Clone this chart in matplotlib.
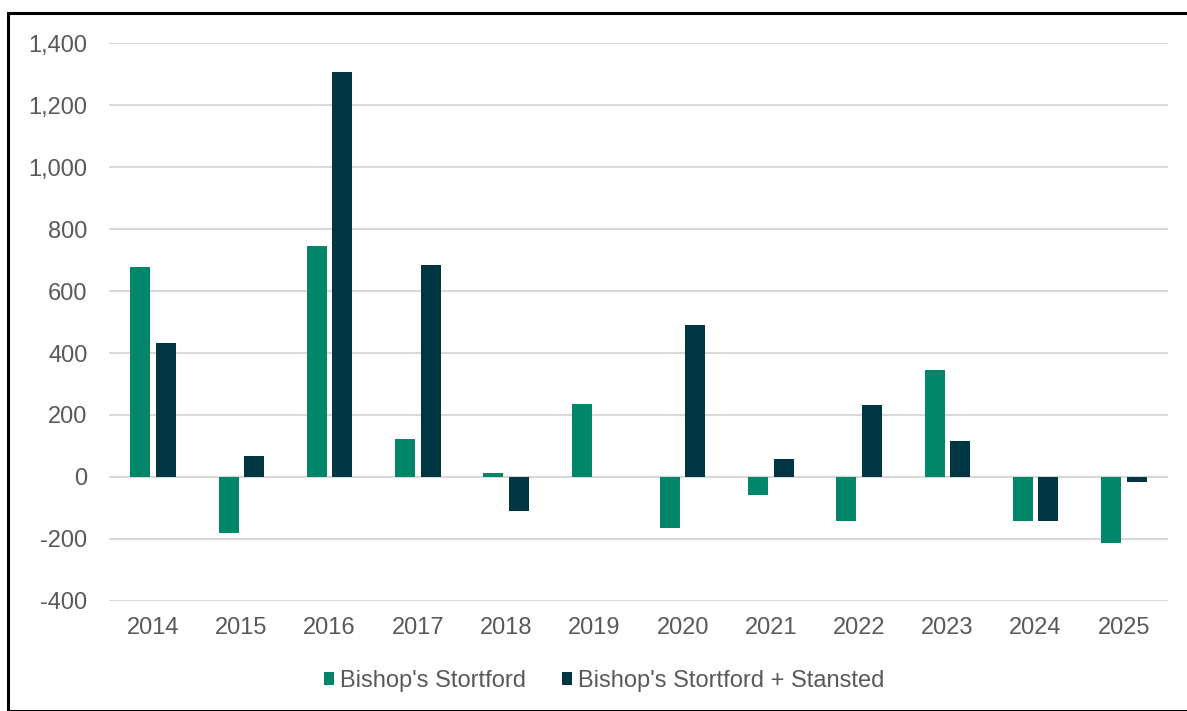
import matplotlib
matplotlib.use("Agg")
import matplotlib.pyplot as plt
import numpy as np
from matplotlib.patches import Rectangle
from matplotlib.ticker import FuncFormatter, MultipleLocator

years = ["2014", "2015", "2016", "2017", "2018", "2019", "2020", "2021", "2022", "2023", "2024", "2025"]
bishops = [678, -181, 746, 122, 14, 237, -164, -57, -141, 346, -141, -215]
bishops_stansted = [432, 69, 1308, 684, -110, 0, 490, 58, 232, 116, -141, -16]
series_names = ["Bishop's Stortford", "Bishop's Stortford + Stansted"]
colors = ["#00876A", "#003641"]

plt.rcParams['font.family'] = ['Liberation Sans', 'DejaVu Sans']

fig = plt.figure(figsize=(11.87, 7.11), dpi=100)
ax = fig.add_axes([109/1187, 1-600.7/711, (1168-109)/1187, (600.7-43.5)/711])

x = np.arange(len(years))
w = 0.225
off = 0.145
ax.bar(x - off, bishops, width=w, color=colors[0], label=series_names[0], zorder=3)
ax.bar(x + off, bishops_stansted, width=w, color=colors[1], label=series_names[1], zorder=3)

ax.set_xlim(-0.5, len(years) - 0.5)
ax.set_ylim(-400, 1400)
ax.yaxis.set_major_locator(MultipleLocator(200))
ax.yaxis.set_major_formatter(FuncFormatter(lambda v, p: f"{int(v):,}"))
ax.set_xticks(x)
ax.set_xticklabels(years)
ax.grid(axis='y', color='#D9D9D9', linewidth=1.5, zorder=0)
ax.set_axisbelow(True)
for s in ax.spines.values():
    s.set_visible(False)
ax.tick_params(axis='both', length=0, labelsize=17, colors='#595959')
ax.tick_params(axis='x', pad=12)
ax.tick_params(axis='y', pad=15.5)

fig.legend(loc='center', bbox_to_anchor=(604/1187, 1-681/711), ncol=2, frameon=False,
           fontsize=17, labelcolor='#595959', handlelength=0.45, handleheight=0.45,
           handletextpad=0.25, columnspacing=1.5)

fig.patches.append(Rectangle((7.5/1187, 0), 1.2, 1-12.5/711, transform=fig.transFigure,
                             fill=False, edgecolor='black', linewidth=2.2))

fig.savefig("out.png", dpi=100)
